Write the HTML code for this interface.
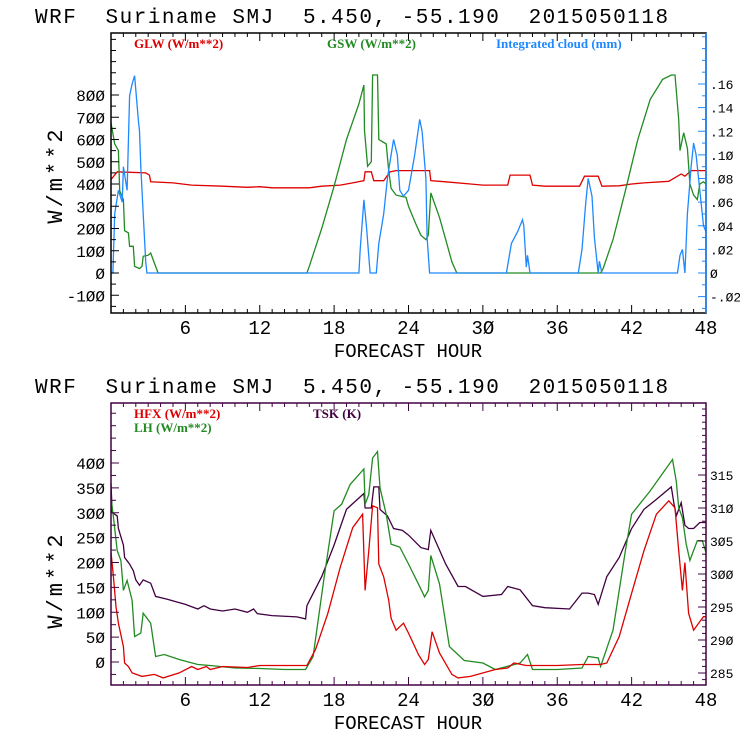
<!DOCTYPE html>
<html><head><meta charset="utf-8"><style>
html,body{margin:0;padding:0;background:#fff;width:740px;height:740px;overflow:hidden}
svg{display:block}
.t{font-family:"Liberation Mono",monospace;font-size:21px;fill:#000;letter-spacing:1.5px}
.tk{font-family:"Liberation Mono",monospace;fill:#000}
.lg{font-family:"Liberation Serif",serif;font-size:13px;font-weight:bold}
</style></head><body>
<svg id="c" width="740" height="740" xmlns="http://www.w3.org/2000/svg"></svg>
<script>
// ---- Top panel data ----
const glwHours=[0,0.5,2.8,3.1,3.2,5,6.5,9,11,12,13,16,17,18.5,19.5,20.4,20.5,21,21.2,22,22.5,23,25.7,25.8,27,29,30,32,32.2,33.8,34,35,37.8,38.2,39.3,39.6,41,42,43,45,46,46.3,46.8,48];
const glwVals=[420,455,450,440,410,405,395,390,385,388,383,383,390,395,405,415,455,455,415,415,455,460,460,415,410,400,395,395,440,440,395,390,390,435,435,390,392,400,405,412,445,435,460,460];
const gswHours=[0,0.3,0.6,0.7,1,1.1,1.4,1.5,1.8,1.9,2.3,2.5,2.6,3,3.2,3.4,3.8,15.8,16,17,18,19,20,20.4,20.45,20.7,21,21.1,21.5,21.6,22.2,22.4,22.6,23,23.4,23.8,24,24.6,25,25.4,25.6,25.8,26.5,27,27.5,27.9,39.5,39.7,40.5,41.5,42.5,43.5,44.5,45.2,45.5,45.8,45.9,46.2,46.5,46.7,47,47.3,47.5,47.8,48];
const gswVals=[675,580,550,370,330,190,180,120,120,30,20,30,75,80,90,60,0,0,30,200,390,600,760,845,640,480,500,890,890,600,580,460,380,350,345,340,300,220,170,150,170,360,250,150,50,0,0,20,150,370,600,780,870,890,890,690,550,630,560,400,350,330,400,410,400];
const cldHours=[0,0.15,0.3,0.6,0.9,1,1.3,1.5,1.7,1.9,2.2,2.3,2.4,2.6,2.8,2.9,20,20.1,20.4,20.6,20.9,21.4,21.6,22,22.3,22.6,22.8,23.1,23.3,23.6,24,24.5,24.9,25.1,25.4,25.5,25.7,31.9,32.3,32.8,33.2,33.3,33.5,33.6,33.8,37.7,38,38.3,38.5,38.8,39,39.2,39.3,39.4,39.6,45.7,45.9,46.1,46.3,46.5,46.8,47,47.2,47.5,47.8,48];
const cldVals=[0,0,0.05,0.07,0.06,0.09,0.07,0.15,0.16,0.167,0.13,0.12,0.09,0.05,0.01,0,0,0.02,0.062,0.04,0,0,0.025,0.05,0.08,0.1,0.113,0.1,0.07,0.065,0.07,0.1,0.13,0.12,0.08,0.03,0,0,0.025,0.035,0.045,0.04,0.005,0.015,0,0,0.02,0.06,0.08,0.065,0.03,0.01,0,0.01,0,0,0.015,0.02,0,0.05,0.09,0.11,0.1,0.07,0.04,0.035];
const topLeftTicks=[-100,0,100,200,300,400,500,600,700,800];
const topRightTicks=[-0.02,0,0.02,0.04,0.06,0.08,0.10,0.12,0.14,0.16];
const topRightLabels=["-.02","0",".02",".04",".06",".08",".10",".12",".14",".16"];
// ---- Bottom panel data ----
const tskHours=[0,0.1,0.5,0.6,1,1.1,1.5,1.8,2,2.3,2.6,3.2,3.6,4.5,6,7,7.5,8,9,10,11,11.5,11.8,13,15,15.7,15.8,17,18,19,20.4,20.5,21,21.2,21.6,21.7,22.3,22.8,23.5,24,25,25.6,25.8,27,28,28.6,30,31.5,32,33,34,35,37,38,38.5,39,39.3,40,41,42,43,44,45.2,45.4,45.6,46,46.3,46.6,47,47.5,48];
const tskVals=[313.7,309.3,308.8,306.9,304.4,302.5,301.5,300.5,299.1,298.3,299.1,298.6,296.6,296.2,295.4,294.7,295.2,294.7,294.4,294.7,294.2,294.7,294,293.7,293.5,293.2,295.2,299.6,304.4,309.8,312.2,310,310,313.2,313.2,309.8,308.8,306.9,306.6,305.9,304,303.7,306.6,301.5,298.1,298.1,296.6,296.9,298.1,297.6,295.2,294.9,294.7,297.1,297.1,296.9,295.4,299.6,302.5,306.9,309.8,311.3,313.2,310.8,308.8,310.8,307.4,306.9,306.9,307.8,307.8];
const hfxHours=[0,0.2,0.4,0.6,1,1.1,1.4,1.7,2.5,3.5,4.2,5.5,6.5,7,7.7,8,9,11,12,15.8,16.5,17.5,18.5,19.5,20.3,20.5,20.8,21.1,21.5,21.6,22,22.4,22.6,23,23.6,24,24.8,25.3,25.6,25.9,26.5,27.5,28,29,31,32,32.5,33.5,34,36,38,39.5,40,41,42,43,44,45,45.5,45.8,46.1,46.3,46.6,47,47.4,47.8,48];
const hfxVals=[220,170,111,78,31,-2,-9,-22,-29,-25,-32,-22,-9,-15,-9,-15,-9,-11,-7,-7,25,98,191,270,297,144,224,314,310,197,171,124,88,64,78,58,15,-5,5,61,18,-25,-32,-29,-15,-12,-2,-7,-7,-7,-5,-5,-2,51,138,224,297,324,310,224,144,200,98,64,78,91,91];
const lhHours=[0,0.2,0.5,0.8,1,1.3,1.7,1.9,2.4,2.6,3.2,3.6,4.3,5.5,7,8,10,12,14,15.7,16.3,17.2,18,18.6,19.3,20.4,20.5,20.8,21.1,21.5,21.7,22.2,22.6,23.3,24,24.8,25.3,25.6,25.8,26.5,27.3,28.5,30,31,33,33.6,34,36,38,38.5,39.3,39.5,40.5,41.5,42,43.5,45.3,45.6,45.8,46.1,46.4,46.7,47.3,47.7,48];
const lhVals=[330,290,224,204,144,164,124,51,58,98,78,11,15,5,-5,-7,-12,-13,-15,-15,11,171,304,317,357,388,317,337,410,423,350,297,237,231,197,157,131,144,214,157,31,3,-2,-15,-2,15,-15,-15,-12,11,8,-9,64,224,297,344,407,363,310,290,237,204,244,244,220];
const botLeftTicks=[0,50,100,150,200,250,300,350,400];
const botRightTicks=[285,290,295,300,305,310,315];
const xTicks=[6,12,18,24,30,36,42,48];

const NS="http://www.w3.org/2000/svg";
const svg=document.getElementById('c');
function el(tag,attrs,parent){const e=document.createElementNS(NS,tag);for(const k in attrs)e.setAttribute(k,attrs[k]);(parent||svg).appendChild(e);return e;}
const X0=111,X1=706;
const xs=h=>X0+(X1-X0)*h/48;

function panel(o){
  const g=el('g',{});
  
  
  const title=el('text',{x:35,y:o.top-10,class:'t'},g);
  title.textContent="WRF  Suriname SMJ  5.450, -55.190  2015050118";
  title.setAttribute('xml:space','preserve');
  title.style.whiteSpace='pre';
  
  
  const yl=o.yl, yr=o.yr;
  o.series.forEach(s=>{
    let d='';
    for(let i=0;i<s.h.length;i++){d+=(i?'L':'M')+xs(s.h[i]).toFixed(1)+','+s.y(s.v[i]).toFixed(1);}
    const p=el('path',{d:d,fill:'none',stroke:s.c,'stroke-width':1.3},g);
    
    
  });
  const b=el('rect',{x:X0,y:o.top,width:X1-X0,height:o.bot-o.top,fill:'none',stroke:o.box,'stroke-width':1.5},g);
  
  
  if(o.rightColor){const rl=el('line',{x1:X1,x2:X1,y1:o.top,y2:o.bot,stroke:o.rightColor,'stroke-width':1.5},g);
    
    }
  for(let h=1;h<48;h++){const L=h%6?4:8;
    el('line',{x1:xs(h),x2:xs(h),y1:o.bot,y2:o.bot-L,stroke:o.box,'stroke-width':1},g);
    el('line',{x1:xs(h),x2:xs(h),y1:o.top,y2:o.top+L,stroke:o.box,'stroke-width':1},g);}
  xTicks.forEach(h=>{const t=el('text',{x:xs(h),y:o.bot+21,class:'tk','text-anchor':'middle'},g);t.textContent=String(h).replace(/0/g,'Ø');
    t.style.fontSize='19px';
    
    });
  const xt=el('text',{x:408,y:o.bot+44,class:'tk','text-anchor':'middle'},g);xt.textContent='FORECAST HOUR';
  xt.style.fontSize='19px';
  
  
  for(let v=o.lmin;v<=o.lmax;v+=o.lminor){const y=yl(v);if(y<o.top||y>o.bot)continue;
    el('line',{x1:X0,x2:X0+(o.leftTicks.includes(v)?8:5),y1:y,y2:y,stroke:o.box},g);}
  o.leftTicks.forEach(v=>{const t=el('text',{x:X0-6,y:yl(v)+6,class:'tk','text-anchor':'end'},g);t.textContent=String(v).replace(/0/g,'Ø');
    t.style.fontSize='16px';
    
    });
  o.rightTicks.forEach((v,i)=>{const y=yr(v);
    el('line',{x1:X1,x2:X1-8,y1:y,y2:y,stroke:o.rightColor||o.box},g);
    const t=el('text',{x:X1+4,y:y+5,class:'tk'},g);t.textContent=o.rightLabels[i].replace(/0/g,'Ø');
    t.style.fontSize=o.rfs;
    
    });
  for(let k=0;k<o.rightMinor.length;k++){const y=yr(o.rightMinor[k]);if(y<o.top||y>o.bot)continue;el('line',{x1:X1,x2:X1-4,y1:y,y2:y,stroke:o.rightColor||o.box},g);}
  const yt=el('text',{x:0,y:0,class:'tk','text-anchor':'middle',transform:`translate(${o.ytx},${o.ytc}) rotate(-90)`},g);
  yt.textContent='W/m**2';
  yt.style.fontSize='22px';yt.style.letterSpacing='3px';
  
  
  o.legend.forEach(l=>{const t=el('text',{x:l.x,y:l.y,class:'lg',fill:l.c},g);t.textContent=l.t;
    
    });
}
const tY=v=>273-v*0.2225;
const tR=v=>273-v*(189/0.16);
panel({name:'top-panel',top:33,bot:313,box:'#000',rightColor:'#1e88ff',yl:tY,yr:tR,lmin:-150,lmax:1050,lminor:50,
  leftTicks:topLeftTicks,rightTicks:topRightTicks,rightLabels:topRightLabels,rfs:'13px',
  rightMinor:[-0.03,-0.01,0.01,0.03,0.05,0.07,0.09,0.11,0.13,0.15,0.17,0.18,0.19,0.20],ytx:62,ytc:175,
  series:[
    {name:'glw-line',h:glwHours,v:glwVals,c:'#dd0000',y:tY},
    {name:'gsw-line',h:gswHours,v:gswVals,c:'#228b22',y:tY},
    {name:'cloud-line',h:cldHours,v:cldVals,c:'#1e88ff',y:tR}],
  legend:[{x:134,y:48,c:'#dd0000',t:'GLW (W/m**2)'},{x:327,y:48,c:'#228b22',t:'GSW (W/m**2)'},{x:496,y:48,c:'#1e88ff',t:'Integrated cloud (mm)'}]});
const bY=v=>662-v*0.4975;
const bR=v=>673-(v-285)*6.6;
panel({name:'bottom-panel',top:403,bot:685,box:'#400040',yl:bY,yr:bR,lmin:-25,lmax:550,lminor:25,
  leftTicks:botLeftTicks,rightTicks:botRightTicks,rightLabels:botRightTicks.map(String),rfs:'13px',
  rightMinor:[283,284,286,287,288,289,291,292,293,294,296,297,298,299,301,302,303,304,306,307,308,309,311,312,313,314,316,317,318,319,320,321,322,323,324,325,326,327],ytx:62,ytc:580,
  series:[
    {name:'tsk-line',h:tskHours,v:tskVals,c:'#400040',y:bR},
    {name:'lh-line',h:lhHours,v:lhVals,c:'#228b22',y:bY},
    {name:'hfx-line',h:hfxHours,v:hfxVals,c:'#dd0000',y:bY}],
  legend:[{x:134,y:418,c:'#dd0000',t:'HFX (W/m**2)'},{x:134,y:432,c:'#228b22',t:'LH  (W/m**2)'},{x:313,y:418,c:'#400040',t:'TSK (K)'}]});
</script>
</body></html>
